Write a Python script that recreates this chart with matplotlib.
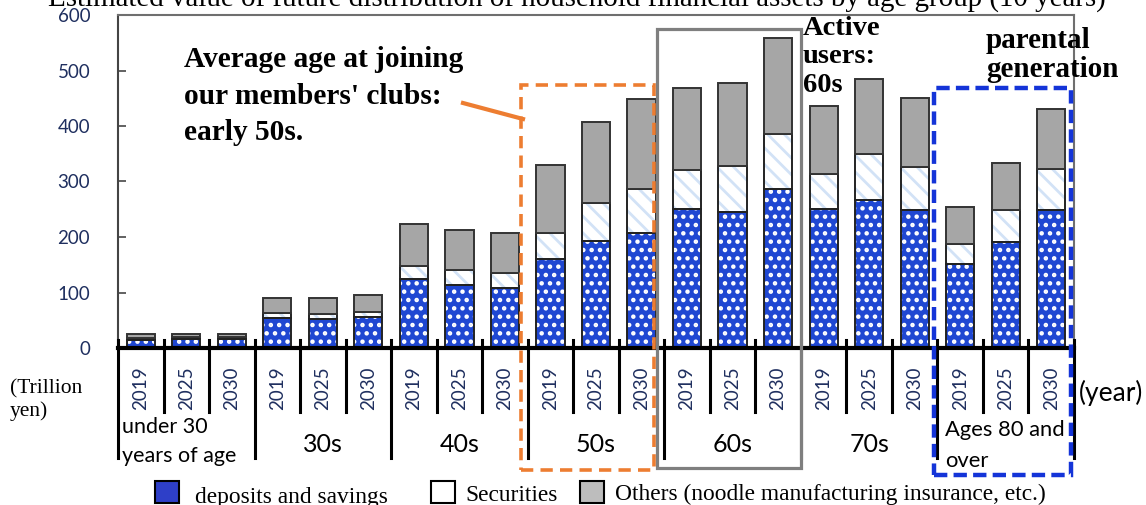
import numpy as np
import matplotlib
matplotlib.use("Agg")
import matplotlib.pyplot as plt
from matplotlib.patches import Rectangle
from matplotlib.lines import Line2D

# ---------------- data ----------------
years = ["2019", "2025", "2030"]
groups = ["under 30\nyears of age", "30s", "40s", "50s", "60s", "70s", "Ages 80 and\nover"]
deposits = [15, 16, 16, 54, 52, 55, 124, 114, 108, 160, 192, 208,
            251, 245, 286, 251, 266, 248, 151, 191, 248]
securities = [3, 3, 3, 9, 9, 9, 23, 26, 27, 47, 69, 78,
              69, 83, 99, 63, 84, 78, 37, 57, 74]
others = [7, 6, 6, 27, 29, 31, 77, 73, 73, 122, 147, 162,
          149, 149, 173, 122, 134, 124, 66, 86, 109]
yticks = [0, 100, 200, 300, 400, 500, 600]
title = "Estimated value of future distribution of household financial assets by age group (10 years)"
legend_labels = ["deposits and savings", "Securities", "Others (noodle manufacturing insurance, etc.)"]

W, H = 1146, 505
def fx(px): return px / W
def fy(py): return 1 - py / H

SERIF = "Liberation Serif"
SANS = "Lato"
NAVY = "#1f2f5f"

plt.rcParams["hatch.linewidth"] = 2.0
fig = plt.figure(figsize=(W / 100, H / 100), dpi=100)
ax_l, ax_r, ax_t, ax_b = 118, 1074, 15, 348
ax = fig.add_axes([fx(ax_l), fy(ax_b), (ax_r - ax_l) / W, (ax_b - ax_t) / H])
def ya(py): return (ax_b - py) / (ax_b - ax_t)

n = len(deposits)
x = np.arange(n)
dep = np.array(deposits, float)
sec = np.array(securities, float)
oth = np.array(others, float)
bw = 0.62

# deposits: blue with white dot pattern
ax.bar(x, dep, bw, color="#1f47d2", edgecolor="white", hatch="..", linewidth=0, zorder=2)
ax.bar(x, dep, bw, fill=False, edgecolor="#222222", linewidth=1.4, zorder=3)
# securities: white with light-blue diagonal stripes
ax.bar(x, sec, bw, bottom=dep, color="white", edgecolor="#d2e2f6", hatch="\\\\", linewidth=0, zorder=2)
ax.bar(x, sec, bw, bottom=dep, fill=False, edgecolor="#222222", linewidth=1.4, zorder=3)
# others: grey
ax.bar(x, oth, bw, bottom=dep + sec, color="#a6a6a6", edgecolor="#333333", linewidth=1.4, zorder=3)

ax.set_xlim(-0.5, n - 0.5)
ax.set_ylim(0, 600)
ax.set_yticks(yticks)
ax.set_yticklabels([str(v) for v in yticks], fontsize=13.5, family=SANS, color=NAVY)
ax.tick_params(axis="y", direction="in", length=6, width=1.3, color="#555555", pad=20)
ax.set_xticks([])
for s in ["top", "right"]:
    ax.spines[s].set_color("#6f6f6f")
    ax.spines[s].set_linewidth(1.5)
ax.spines["left"].set_color("#444444")
ax.spines["left"].set_linewidth(1.5)
ax.spines["bottom"].set_color("black")
ax.spines["bottom"].set_linewidth(3)
ax.spines["bottom"].set_zorder(5)

# separators below the x axis
tr = ax.get_xaxis_transform()
for b in np.arange(-0.5, n, 1.0):
    is_group = int(round(b + 0.5)) % 3 == 0
    y_low = ya(458) if is_group else ya(412)
    ax.add_line(Line2D([b, b], [ya(340), y_low], transform=tr, color="black",
                       linewidth=2.2, clip_on=False, zorder=6))

# year labels
for i in range(n):
    ax.text(x[i], ya(388), years[i % 3], rotation=90, ha="center", va="center",
            fontsize=13.5, family=SANS, color=NAVY, transform=tr, clip_on=False)

# group labels
for g in range(len(groups)):
    cx = 3 * g + 1
    if g == 0:
        fig.text(fx(122), fy(433), "under 30", ha="left", va="baseline", fontsize=15.5, family=SANS)
        fig.text(fx(122), fy(462), "years of age", ha="left", va="baseline", fontsize=15.5, family=SANS)
    elif g == len(groups) - 1:
        fig.text(fx(945), fy(436), "Ages 80 and", ha="left", va="baseline", fontsize=15.8, family=SANS)
        fig.text(fx(945), fy(467), "over", ha="left", va="baseline", fontsize=15.8, family=SANS)
    else:
        ax.text(cx, ya(445), groups[g], ha="center", va="center", fontsize=18,
                family=SANS, transform=tr, clip_on=False)

# axis unit texts
fig.text(fx(10), fy(393), "(Trillion", ha="left", va="baseline", fontsize=15.5, family=SERIF)
fig.text(fx(10), fy(416), "yen)", ha="left", va="baseline", fontsize=15.5, family=SERIF)
fig.text(fx(1079), fy(393), "(year)", ha="left", va="center", fontsize=19, family=SANS)

# title (cut off at the top)
fig.text(fx(577), fy(7), title, ha="center", va="baseline", fontsize=20.9, family=SERIF)

# annotation boxes
def frect(x0, y0, x1, y1, **kw):
    r = Rectangle((fx(x0), fy(y1)), (x1 - x0) / W, (y1 - y0) / H, transform=fig.transFigure,
                  fill=False, **kw)
    fig.add_artist(r)

frect(521, 85, 654, 470, edgecolor="#ed7d31", linewidth=2.6, linestyle=(0, (3.4, 2.0)), zorder=10)
frect(657, 29, 801, 468, edgecolor="#7f7f7f", linewidth=2.3, zorder=10)
frect(934, 88, 1071, 475, edgecolor="#1434d8", linewidth=3.2, linestyle=(0, (3.0, 1.4)), zorder=10)
fig.add_artist(Line2D([fx(463), fx(523)], [fy(103), fy(119)], transform=fig.transFigure,
                      color="#ed7d31", linewidth=3.0, zorder=10))

# annotation texts
for txt, yb in [("Average age at joining", 67), ("our members' clubs:", 104), ("early 50s.", 140)]:
    fig.text(fx(184), fy(yb), txt, ha="left", va="baseline", fontsize=21.2,
             family=SERIF, fontweight="bold")
for txt, yb in [("Active", 35), ("users:", 63), ("60s", 92)]:
    fig.text(fx(803), fy(yb), txt, ha="left", va="baseline", fontsize=20.5,
             family=SERIF, fontweight="bold")
for txt, yb in [("parental", 48), ("generation", 77)]:
    fig.text(fx(986), fy(yb), txt, ha="left", va="baseline", fontsize=21,
             family=SERIF, fontweight="bold")

# legend
leg_items = [(155, "#2e3fc8", 195, 503), (431, "white", 465, 501), (580, "#bdbdbd", 615, 500)]
for (sx, col, tx, tb), lab in zip(leg_items, legend_labels):
    fig.add_artist(Rectangle((fx(sx), fy(503)), 24 / W, 22 / H, transform=fig.transFigure,
                             facecolor=col, edgecolor="black", linewidth=1.5))
    fig.text(fx(tx), fy(tb), lab, ha="left", va="baseline", fontsize=16.8, family=SERIF)

fig.savefig("out.png", dpi=100)
